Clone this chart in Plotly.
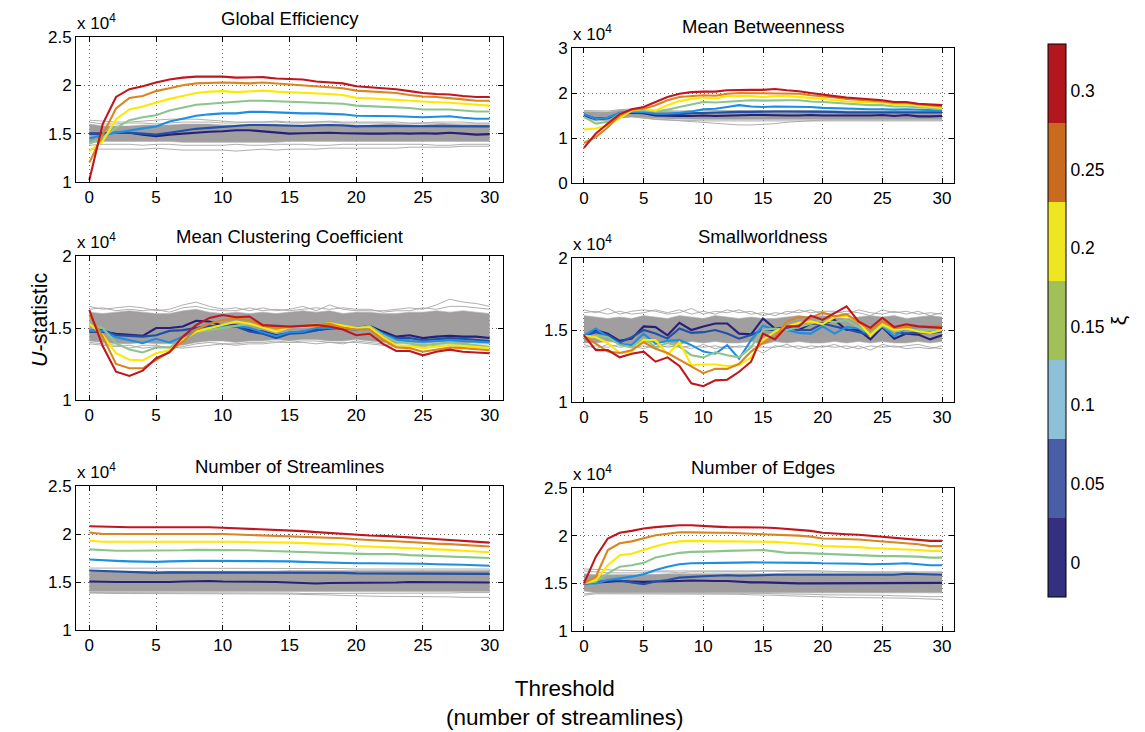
import plotly.graph_objects as go

W, H = 1145, 732
X = list(range(31))
XI = [0, 0.05, 0.1, 0.15, 0.2, 0.25, 0.3]
XI_TEXT = ["0", "0.05", "0.1", "0.15", "0.2", "0.25", "0.3"]
LINE_COLORS = ["#25207B", "#2050A8", "#1C8EE3", "#8CC58C", "#FFE800", "#D98520", "#C0161E"]
BAR_COLORS = ["#352F82", "#4A5EA8", "#8DC1D7", "#A1C158", "#EEE620", "#C96A1F", "#B3171E"]

# ---------------- Global Efficiency (x 1e4) ----------------
ge_00 = [1.50,1.50,1.51,1.51,1.49,1.475,1.49,1.50,1.515,1.52,1.525,1.535,1.535,1.525,1.51,1.50,1.505,1.51,1.51,1.505,1.50,1.50,1.50,1.505,1.50,1.505,1.50,1.51,1.50,1.49,1.495]
ge_05 = [1.50,1.50,1.51,1.51,1.50,1.49,1.51,1.53,1.55,1.56,1.57,1.58,1.59,1.59,1.585,1.58,1.58,1.585,1.59,1.585,1.575,1.58,1.58,1.58,1.575,1.575,1.58,1.58,1.575,1.575,1.575]
ge_10 = [1.45,1.485,1.51,1.535,1.555,1.575,1.625,1.655,1.685,1.70,1.71,1.71,1.725,1.725,1.72,1.71,1.71,1.71,1.705,1.70,1.685,1.685,1.685,1.68,1.675,1.67,1.675,1.68,1.665,1.655,1.655]
ge_15 = [1.395,1.46,1.56,1.64,1.67,1.69,1.74,1.77,1.80,1.81,1.82,1.83,1.84,1.84,1.835,1.83,1.825,1.82,1.815,1.81,1.79,1.785,1.78,1.775,1.765,1.75,1.75,1.75,1.74,1.73,1.73]
ge_20 = [1.32,1.42,1.65,1.75,1.78,1.82,1.86,1.89,1.92,1.935,1.94,1.93,1.94,1.945,1.935,1.93,1.925,1.92,1.91,1.90,1.87,1.865,1.86,1.85,1.84,1.83,1.825,1.82,1.81,1.80,1.79]
ge_25 = [1.20,1.49,1.76,1.87,1.89,1.94,1.97,2.00,2.02,2.025,2.03,2.025,2.02,2.03,2.02,2.01,2.00,1.99,1.98,1.97,1.945,1.935,1.93,1.92,1.90,1.885,1.88,1.87,1.855,1.84,1.84]
ge_30 = [1.02,1.60,1.88,1.96,1.99,2.03,2.06,2.08,2.09,2.09,2.09,2.08,2.08,2.085,2.07,2.065,2.06,2.04,2.03,2.02,1.99,1.98,1.97,1.96,1.94,1.92,1.91,1.905,1.89,1.88,1.88]
ge_gray_lo = [1.40,1.42,1.42,1.42,1.42,1.42,1.42,1.41,1.41,1.41,1.41,1.41,1.41,1.41,1.41,1.42,1.42,1.42,1.42,1.42,1.42,1.42,1.42,1.42,1.42,1.42,1.42,1.42,1.42,1.42,1.42]
ge_gray_hi = [1.60,1.58,1.58,1.58,1.59,1.59,1.59,1.60,1.60,1.60,1.59,1.59,1.60,1.60,1.60,1.59,1.59,1.60,1.60,1.60,1.59,1.59,1.60,1.60,1.59,1.59,1.60,1.60,1.59,1.59,1.59]
ge_gray_lines = [
    [1.64,1.63,1.62,1.62,1.63,1.64,1.65,1.65,1.65,1.64,1.63,1.62,1.62,1.62,1.62,1.61,1.61,1.62,1.62,1.61,1.61,1.61,1.61,1.60,1.60,1.61,1.61,1.60,1.60,1.60,1.60],
    [1.62,1.60,1.60,1.61,1.61,1.60,1.61,1.62,1.62,1.62,1.61,1.61,1.62,1.62,1.63,1.62,1.62,1.62,1.63,1.62,1.62,1.62,1.62,1.62,1.61,1.61,1.62,1.62,1.62,1.61,1.61],
    [1.34,1.34,1.34,1.34,1.34,1.35,1.34,1.33,1.33,1.33,1.33,1.32,1.33,1.34,1.33,1.34,1.34,1.34,1.35,1.35,1.35,1.35,1.35,1.35,1.36,1.36,1.36,1.36,1.37,1.37,1.37],
    [1.38,1.39,1.39,1.39,1.38,1.39,1.39,1.38,1.38,1.38,1.38,1.39,1.38,1.38,1.39,1.39,1.39,1.38,1.38,1.39,1.39,1.39,1.39,1.39,1.39,1.39,1.38,1.38,1.39,1.39,1.39],
]

# ---------------- Mean Betweenness ----------------
mb_00 = [1.50,1.42,1.44,1.54,1.56,1.55,1.50,1.49,1.49,1.49,1.50,1.49,1.50,1.50,1.51,1.51,1.50,1.50,1.50,1.51,1.50,1.50,1.50,1.49,1.50,1.51,1.49,1.51,1.48,1.48,1.49]
mb_05 = [1.52,1.43,1.45,1.55,1.57,1.57,1.53,1.53,1.53,1.55,1.56,1.56,1.57,1.58,1.58,1.59,1.59,1.59,1.59,1.59,1.58,1.58,1.57,1.57,1.58,1.58,1.57,1.58,1.57,1.57,1.57]
mb_10 = [1.53,1.42,1.45,1.56,1.58,1.58,1.54,1.54,1.56,1.59,1.64,1.65,1.69,1.73,1.70,1.69,1.70,1.70,1.70,1.69,1.67,1.66,1.65,1.65,1.64,1.64,1.63,1.64,1.63,1.61,1.61]
mb_15 = [1.47,1.32,1.36,1.54,1.61,1.61,1.59,1.63,1.69,1.75,1.80,1.79,1.81,1.83,1.84,1.83,1.84,1.84,1.84,1.81,1.80,1.78,1.76,1.74,1.73,1.73,1.70,1.70,1.69,1.67,1.65]
mb_20 = [1.19,1.21,1.28,1.45,1.61,1.65,1.61,1.73,1.82,1.87,1.90,1.88,1.93,1.93,1.93,1.91,1.93,1.93,1.91,1.90,1.87,1.84,1.81,1.80,1.79,1.78,1.75,1.75,1.72,1.69,1.67]
mb_25 = [0.89,1.02,1.24,1.50,1.63,1.65,1.73,1.84,1.91,1.93,1.95,1.94,1.985,2.00,2.00,2.00,2.00,2.00,1.985,1.95,1.93,1.90,1.87,1.85,1.84,1.81,1.78,1.78,1.75,1.72,1.70]
mb_30 = [0.78,1.10,1.32,1.53,1.64,1.69,1.80,1.91,1.985,2.02,2.03,2.03,2.06,2.07,2.07,2.07,2.09,2.06,2.04,2.00,1.96,1.93,1.90,1.88,1.87,1.84,1.80,1.80,1.76,1.74,1.73]
mb_gray_lo = [1.46,1.40,1.41,1.45,1.47,1.45,1.43,1.42,1.42,1.41,1.41,1.41,1.41,1.41,1.41,1.42,1.42,1.42,1.42,1.42,1.42,1.42,1.42,1.42,1.42,1.42,1.41,1.41,1.41,1.41,1.41]
mb_gray_hi = [1.59,1.58,1.58,1.62,1.63,1.61,1.60,1.59,1.58,1.58,1.58,1.58,1.59,1.59,1.59,1.59,1.59,1.59,1.59,1.59,1.59,1.59,1.59,1.58,1.58,1.58,1.58,1.58,1.58,1.58,1.58]
mb_gray_lines = [
    [1.61,1.60,1.60,1.63,1.645,1.62,1.61,1.60,1.60,1.61,1.61,1.61,1.62,1.62,1.61,1.61,1.61,1.61,1.61,1.61,1.61,1.60,1.60,1.60,1.60,1.60,1.60,1.60,1.60,1.60,1.60],
    [1.45,1.40,1.41,1.46,1.48,1.46,1.42,1.40,1.38,1.36,1.34,1.32,1.30,1.29,1.29,1.30,1.32,1.35,1.37,1.39,1.40,1.40,1.40,1.40,1.40,1.41,1.40,1.40,1.40,1.40,1.40],
    [1.46,1.38,1.39,1.45,1.47,1.44,1.41,1.40,1.40,1.39,1.38,1.38,1.38,1.38,1.39,1.39,1.39,1.39,1.39,1.39,1.39,1.39,1.39,1.39,1.39,1.39,1.38,1.38,1.38,1.38,1.38],
]

# ---------------- Mean Clustering Coefficient ----------------
cc_00 = [1.475,1.475,1.46,1.45,1.445,1.50,1.50,1.51,1.55,1.545,1.515,1.52,1.485,1.475,1.45,1.465,1.475,1.49,1.50,1.505,1.50,1.515,1.475,1.44,1.45,1.43,1.44,1.445,1.44,1.44,1.43]
cc_05 = [1.48,1.485,1.45,1.445,1.44,1.45,1.48,1.485,1.50,1.515,1.505,1.51,1.475,1.46,1.43,1.46,1.465,1.485,1.50,1.495,1.49,1.505,1.46,1.43,1.43,1.415,1.425,1.43,1.425,1.42,1.41]
cc_10 = [1.48,1.48,1.435,1.415,1.395,1.425,1.40,1.44,1.485,1.49,1.51,1.515,1.50,1.47,1.445,1.47,1.475,1.50,1.50,1.50,1.49,1.51,1.46,1.42,1.41,1.405,1.41,1.415,1.41,1.405,1.40]
cc_15 = [1.52,1.50,1.395,1.35,1.33,1.365,1.365,1.415,1.47,1.485,1.50,1.52,1.53,1.51,1.485,1.505,1.515,1.53,1.53,1.515,1.50,1.515,1.45,1.405,1.395,1.38,1.39,1.40,1.39,1.38,1.37]
cc_20 = [1.53,1.45,1.325,1.28,1.275,1.325,1.345,1.415,1.475,1.50,1.52,1.545,1.53,1.505,1.475,1.505,1.51,1.515,1.535,1.515,1.50,1.505,1.435,1.38,1.375,1.36,1.37,1.38,1.375,1.365,1.36]
cc_25 = [1.59,1.44,1.25,1.22,1.22,1.28,1.335,1.405,1.49,1.53,1.555,1.565,1.555,1.515,1.50,1.505,1.515,1.52,1.53,1.50,1.49,1.49,1.42,1.365,1.36,1.335,1.35,1.365,1.36,1.35,1.345]
cc_30 = [1.625,1.375,1.197,1.167,1.204,1.29,1.33,1.44,1.52,1.57,1.59,1.575,1.58,1.52,1.515,1.51,1.515,1.52,1.51,1.49,1.45,1.46,1.39,1.34,1.34,1.31,1.335,1.35,1.335,1.33,1.325]
cc_gray_lo = [1.41,1.40,1.39,1.39,1.40,1.39,1.39,1.38,1.40,1.41,1.41,1.40,1.41,1.41,1.42,1.41,1.42,1.42,1.41,1.41,1.42,1.41,1.40,1.39,1.40,1.39,1.40,1.40,1.39,1.40,1.40]
cc_gray_hi = [1.61,1.60,1.61,1.62,1.61,1.60,1.60,1.62,1.63,1.61,1.60,1.61,1.60,1.61,1.60,1.61,1.62,1.61,1.62,1.60,1.61,1.61,1.60,1.60,1.61,1.61,1.62,1.61,1.62,1.61,1.60]
cc_gray_lines = [
    [1.65,1.63,1.64,1.65,1.64,1.62,1.63,1.66,1.68,1.65,1.63,1.64,1.62,1.64,1.62,1.63,1.65,1.62,1.66,1.63,1.62,1.62,1.62,1.63,1.64,1.63,1.66,1.70,1.68,1.67,1.65],
    [1.63,1.64,1.62,1.63,1.62,1.63,1.61,1.64,1.65,1.63,1.62,1.62,1.64,1.62,1.63,1.62,1.63,1.64,1.63,1.64,1.63,1.63,1.61,1.62,1.62,1.64,1.63,1.65,1.65,1.64,1.63],
    [1.39,1.38,1.37,1.38,1.36,1.37,1.37,1.36,1.37,1.38,1.39,1.38,1.39,1.39,1.40,1.40,1.40,1.39,1.40,1.40,1.40,1.39,1.38,1.37,1.38,1.37,1.38,1.38,1.37,1.38,1.37],
    [1.40,1.39,1.38,1.36,1.38,1.38,1.36,1.37,1.39,1.40,1.39,1.39,1.40,1.40,1.41,1.40,1.41,1.41,1.40,1.39,1.41,1.40,1.39,1.38,1.38,1.38,1.39,1.39,1.38,1.39,1.39],
]

# ---------------- Smallworldness ----------------
sw_00 = [1.46,1.50,1.475,1.425,1.44,1.525,1.52,1.463,1.55,1.50,1.525,1.545,1.545,1.475,1.47,1.58,1.51,1.515,1.50,1.545,1.545,1.57,1.50,1.50,1.435,1.52,1.44,1.475,1.468,1.435,1.463]
sw_05 = [1.46,1.485,1.465,1.415,1.45,1.50,1.475,1.44,1.51,1.48,1.485,1.50,1.475,1.44,1.465,1.50,1.50,1.515,1.50,1.50,1.545,1.525,1.51,1.485,1.465,1.525,1.485,1.475,1.485,1.48,1.49]
sw_10 = [1.46,1.51,1.45,1.405,1.395,1.475,1.405,1.425,1.43,1.395,1.35,1.335,1.395,1.30,1.43,1.53,1.50,1.50,1.48,1.475,1.525,1.475,1.52,1.51,1.465,1.525,1.455,1.515,1.50,1.485,1.51]
sw_15 = [1.45,1.46,1.45,1.395,1.38,1.445,1.38,1.41,1.385,1.325,1.31,1.345,1.325,1.31,1.38,1.50,1.51,1.50,1.52,1.545,1.57,1.555,1.57,1.52,1.475,1.53,1.485,1.51,1.50,1.50,1.51]
sw_20 = [1.46,1.45,1.41,1.34,1.35,1.43,1.43,1.33,1.415,1.255,1.26,1.26,1.25,1.255,1.31,1.43,1.49,1.525,1.55,1.56,1.54,1.59,1.60,1.555,1.46,1.54,1.50,1.51,1.49,1.48,1.50]
sw_25 = [1.46,1.405,1.35,1.34,1.36,1.415,1.37,1.34,1.295,1.245,1.20,1.23,1.23,1.265,1.35,1.41,1.45,1.56,1.59,1.585,1.62,1.595,1.61,1.555,1.50,1.56,1.515,1.52,1.52,1.525,1.53]
sw_30 = [1.463,1.36,1.36,1.31,1.335,1.35,1.28,1.31,1.25,1.13,1.11,1.15,1.155,1.21,1.28,1.475,1.435,1.525,1.525,1.60,1.57,1.615,1.665,1.56,1.515,1.585,1.52,1.54,1.525,1.52,1.515]
sw_gray_lo = [1.41,1.41,1.42,1.41,1.40,1.41,1.42,1.41,1.40,1.42,1.41,1.42,1.41,1.41,1.42,1.40,1.42,1.41,1.42,1.41,1.41,1.42,1.41,1.42,1.41,1.42,1.41,1.41,1.42,1.41,1.42]
sw_gray_hi = [1.60,1.59,1.58,1.59,1.58,1.60,1.59,1.58,1.60,1.59,1.58,1.60,1.59,1.58,1.59,1.58,1.58,1.59,1.60,1.59,1.60,1.59,1.58,1.59,1.60,1.59,1.60,1.58,1.59,1.60,1.59]
sw_gray_lines = [
    [1.64,1.62,1.65,1.61,1.63,1.64,1.63,1.61,1.62,1.65,1.61,1.63,1.62,1.64,1.61,1.62,1.60,1.63,1.62,1.64,1.61,1.62,1.63,1.62,1.60,1.64,1.62,1.63,1.61,1.62,1.61],
    [1.62,1.63,1.61,1.63,1.61,1.62,1.64,1.62,1.64,1.61,1.63,1.61,1.64,1.62,1.63,1.60,1.62,1.61,1.64,1.62,1.63,1.63,1.61,1.64,1.62,1.61,1.63,1.61,1.63,1.60,1.62],
    [1.38,1.39,1.38,1.40,1.38,1.39,1.37,1.39,1.38,1.39,1.38,1.39,1.37,1.39,1.38,1.34,1.39,1.38,1.39,1.37,1.39,1.38,1.39,1.37,1.39,1.38,1.39,1.37,1.38,1.37,1.39],
    [1.40,1.37,1.40,1.38,1.39,1.37,1.40,1.38,1.39,1.37,1.40,1.37,1.39,1.38,1.39,1.38,1.38,1.40,1.37,1.39,1.38,1.40,1.37,1.39,1.36,1.40,1.38,1.39,1.40,1.38,1.37],
]

# ---------------- Number of Streamlines ----------------
ns_00 = [1.505,1.50,1.50,1.50,1.50,1.495,1.50,1.505,1.51,1.51,1.505,1.505,1.50,1.50,1.50,1.495,1.49,1.485,1.49,1.49,1.495,1.495,1.49,1.495,1.50,1.50,1.495,1.50,1.50,1.495,1.495]
ns_05 = [1.62,1.615,1.61,1.605,1.60,1.595,1.60,1.60,1.60,1.60,1.60,1.60,1.60,1.60,1.595,1.595,1.60,1.60,1.595,1.595,1.59,1.59,1.59,1.59,1.59,1.59,1.59,1.59,1.585,1.585,1.585]
ns_10 = [1.735,1.725,1.72,1.715,1.71,1.71,1.715,1.72,1.72,1.72,1.72,1.72,1.715,1.715,1.715,1.715,1.71,1.705,1.705,1.70,1.695,1.695,1.695,1.695,1.69,1.69,1.685,1.685,1.68,1.675,1.67]
ns_15 = [1.84,1.83,1.825,1.825,1.825,1.825,1.83,1.83,1.835,1.835,1.83,1.83,1.83,1.825,1.82,1.82,1.815,1.81,1.805,1.80,1.795,1.79,1.79,1.79,1.78,1.775,1.77,1.765,1.76,1.755,1.75]
ns_20 = [1.93,1.92,1.92,1.92,1.92,1.92,1.925,1.925,1.925,1.925,1.92,1.92,1.915,1.915,1.91,1.91,1.905,1.90,1.895,1.89,1.875,1.87,1.865,1.86,1.85,1.845,1.84,1.835,1.825,1.815,1.81]
ns_25 = [2.015,2.00,2.00,2.00,2.00,2.00,2.00,2.00,2.005,2.005,2.00,1.995,1.99,1.99,1.985,1.98,1.97,1.965,1.96,1.955,1.945,1.935,1.93,1.925,1.915,1.905,1.90,1.895,1.885,1.875,1.87]
ns_30 = [2.08,2.075,2.07,2.07,2.07,2.07,2.075,2.075,2.075,2.07,2.065,2.06,2.055,2.05,2.04,2.035,2.03,2.02,2.01,2.00,1.99,1.985,1.98,1.975,1.965,1.955,1.945,1.94,1.93,1.92,1.91]
ns_gray_lo = [1.40,1.40,1.40,1.40,1.40,1.40,1.40,1.40,1.40,1.40,1.40,1.40,1.40,1.40,1.40,1.40,1.40,1.40,1.40,1.40,1.40,1.40,1.40,1.40,1.40,1.40,1.40,1.40,1.40,1.40,1.40]
ns_gray_hi = [1.61,1.61,1.61,1.61,1.61,1.61,1.61,1.61,1.61,1.61,1.61,1.61,1.615,1.615,1.615,1.62,1.62,1.62,1.62,1.62,1.62,1.62,1.62,1.62,1.62,1.62,1.62,1.62,1.62,1.62,1.62]
ns_gray_lines = [
    [1.645,1.645,1.645,1.645,1.645,1.645,1.645,1.645,1.645,1.64,1.64,1.64,1.64,1.64,1.64,1.64,1.64,1.64,1.64,1.64,1.635,1.635,1.635,1.635,1.635,1.635,1.635,1.635,1.635,1.635,1.635],
    [1.385,1.38,1.38,1.38,1.38,1.38,1.38,1.38,1.38,1.38,1.38,1.375,1.375,1.375,1.375,1.375,1.37,1.37,1.365,1.36,1.355,1.35,1.35,1.35,1.35,1.35,1.345,1.345,1.34,1.34,1.34],
    [1.39,1.39,1.39,1.39,1.39,1.39,1.39,1.39,1.385,1.385,1.385,1.385,1.385,1.385,1.385,1.385,1.38,1.38,1.38,1.38,1.38,1.38,1.38,1.385,1.385,1.385,1.385,1.385,1.39,1.39,1.39],
]

# ---------------- Number of Edges ----------------
ne_00 = [1.50,1.51,1.52,1.525,1.52,1.515,1.52,1.52,1.525,1.53,1.525,1.525,1.525,1.515,1.51,1.51,1.505,1.50,1.50,1.50,1.50,1.50,1.50,1.50,1.50,1.50,1.505,1.505,1.50,1.50,1.505]
ne_05 = [1.50,1.51,1.53,1.53,1.51,1.49,1.52,1.535,1.56,1.57,1.575,1.58,1.585,1.58,1.58,1.585,1.59,1.59,1.585,1.585,1.585,1.59,1.59,1.59,1.59,1.59,1.59,1.60,1.595,1.59,1.59]
ne_10 = [1.50,1.50,1.535,1.55,1.57,1.595,1.64,1.675,1.70,1.71,1.71,1.712,1.715,1.717,1.72,1.72,1.717,1.715,1.715,1.715,1.71,1.71,1.71,1.705,1.70,1.70,1.705,1.71,1.70,1.69,1.69]
ne_15 = [1.50,1.52,1.605,1.675,1.69,1.715,1.77,1.795,1.82,1.83,1.83,1.835,1.84,1.845,1.845,1.85,1.835,1.82,1.82,1.815,1.805,1.80,1.795,1.79,1.79,1.785,1.785,1.785,1.78,1.77,1.77]
ne_20 = [1.50,1.535,1.69,1.795,1.81,1.85,1.89,1.92,1.94,1.945,1.94,1.94,1.94,1.94,1.94,1.94,1.935,1.925,1.92,1.91,1.89,1.887,1.885,1.88,1.87,1.865,1.862,1.86,1.85,1.84,1.84]
ne_25 = [1.50,1.57,1.85,1.92,1.94,1.975,2.005,2.02,2.035,2.035,2.03,2.03,2.03,2.025,2.025,2.02,2.01,2.005,2.00,1.99,1.97,1.967,1.965,1.96,1.95,1.94,1.935,1.925,1.91,1.89,1.89]
ne_30 = [1.50,1.78,1.97,2.03,2.05,2.075,2.09,2.10,2.11,2.11,2.10,2.095,2.09,2.09,2.087,2.085,2.08,2.07,2.06,2.05,2.03,2.02,2.015,2.01,2.00,1.99,1.98,1.97,1.955,1.945,1.945]
ne_gray_lo = [1.42,1.40,1.40,1.40,1.40,1.40,1.405,1.405,1.405,1.405,1.405,1.405,1.405,1.405,1.405,1.405,1.40,1.40,1.40,1.40,1.40,1.40,1.40,1.40,1.40,1.40,1.40,1.40,1.40,1.40,1.40]
ne_gray_hi = [1.60,1.59,1.59,1.59,1.59,1.59,1.595,1.60,1.60,1.60,1.60,1.60,1.60,1.60,1.60,1.605,1.605,1.605,1.605,1.605,1.605,1.605,1.605,1.605,1.605,1.605,1.605,1.605,1.605,1.605,1.605]
ne_gray_lines = [
    [1.65,1.645,1.64,1.635,1.635,1.63,1.63,1.63,1.625,1.625,1.625,1.625,1.625,1.625,1.63,1.63,1.63,1.635,1.635,1.63,1.63,1.625,1.62,1.62,1.62,1.62,1.62,1.62,1.62,1.62,1.62],
    [1.63,1.62,1.61,1.61,1.61,1.61,1.62,1.62,1.61,1.62,1.62,1.62,1.62,1.62,1.62,1.63,1.63,1.62,1.62,1.62,1.62,1.62,1.62,1.62,1.62,1.615,1.62,1.615,1.61,1.61,1.61],
    [1.375,1.39,1.39,1.39,1.39,1.39,1.39,1.39,1.39,1.39,1.39,1.39,1.385,1.385,1.38,1.38,1.375,1.37,1.365,1.36,1.355,1.35,1.35,1.35,1.35,1.35,1.345,1.345,1.34,1.335,1.33],
    [1.39,1.40,1.40,1.40,1.40,1.40,1.40,1.40,1.40,1.40,1.40,1.40,1.40,1.40,1.395,1.395,1.39,1.39,1.385,1.385,1.38,1.38,1.375,1.375,1.375,1.375,1.37,1.37,1.365,1.36,1.36],
]

TITLES = ["Global Efficiency", "Mean Betweenness", "Mean Clustering Coefficient",
          "Smallworldness", "Number of Streamlines", "Number of Edges"]
SERIES = [
    [ge_00, ge_05, ge_10, ge_15, ge_20, ge_25, ge_30],
    [mb_00, mb_05, mb_10, mb_15, mb_20, mb_25, mb_30],
    [cc_00, cc_05, cc_10, cc_15, cc_20, cc_25, cc_30],
    [sw_00, sw_05, sw_10, sw_15, sw_20, sw_25, sw_30],
    [ns_00, ns_05, ns_10, ns_15, ns_20, ns_25, ns_30],
    [ne_00, ne_05, ne_10, ne_15, ne_20, ne_25, ne_30],
]
GRAY_LO = [ge_gray_lo, mb_gray_lo, cc_gray_lo, sw_gray_lo, ns_gray_lo, ne_gray_lo]
GRAY_HI = [ge_gray_hi, mb_gray_hi, cc_gray_hi, sw_gray_hi, ns_gray_hi, ne_gray_hi]
GRAY_LINES = [ge_gray_lines, mb_gray_lines, cc_gray_lines, sw_gray_lines, ns_gray_lines, ne_gray_lines]
Y_TICKS = [[1, 1.5, 2, 2.5], [0, 1, 2, 3], [1, 1.5, 2], [1, 1.5, 2], [1, 1.5, 2, 2.5], [1, 1.5, 2, 2.5]]
Y_TICKTEXT = [["1", "1.5", "2", "2.5"], ["0", "1", "2", "3"], ["1", "1.5", "2"], ["1", "1.5", "2"],
              ["1", "1.5", "2", "2.5"], ["1", "1.5", "2", "2.5"]]
X_TICKS = [0, 5, 10, 15, 20, 25, 30]

# panel boxes in pixels: (left, right, top, bottom)
BOXES = [(76, 503, 37, 182), (572, 954, 48, 183),
         (76, 503, 256, 400), (572, 954, 258, 402),
         (76, 503, 486, 630), (572, 954, 488, 631)]
TITLE_Y = [18, 27, 236, 237, 466, 467]

fig = go.Figure()
FONT = "Liberation Sans, Arial, Helvetica, sans-serif"

for i in range(6):
    ax = "" if i == 0 else str(i + 1)
    xa, ya = "x" + ax, "y" + ax
    # dense null-distribution band
    fig.add_trace(go.Scatter(x=X, y=GRAY_LO[i], xaxis=xa, yaxis=ya, mode="lines",
                             line=dict(width=0.6, color="#B4B2B2"), showlegend=False, hoverinfo="skip"))
    fig.add_trace(go.Scatter(x=X, y=GRAY_HI[i], xaxis=xa, yaxis=ya, mode="lines", fill="tonexty",
                             fillcolor="#A09E9E", line=dict(width=0.6, color="#B4B2B2"),
                             showlegend=False, hoverinfo="skip"))
    for g in GRAY_LINES[i]:
        fig.add_trace(go.Scatter(x=X, y=g, xaxis=xa, yaxis=ya, mode="lines",
                                 line=dict(width=0.9, color="#A6A6A6"), showlegend=False, hoverinfo="skip"))
    for k, s in enumerate(SERIES[i]):
        fig.add_trace(go.Scatter(x=X, y=s, xaxis=xa, yaxis=ya, mode="lines",
                                 line=dict(width=2.1, color=LINE_COLORS[k]), showlegend=False,
                                 name="ξ=" + XI_TEXT[k]))

    l, r, t, b = BOXES[i]
    xdom = [l / W, r / W]
    ydom = [1 - b / H, 1 - t / H]
    common = dict(showline=True, linecolor="black", linewidth=1, mirror="ticks", ticks="inside",
                  ticklen=5, tickcolor="black", showgrid=True, gridcolor="#666666", gridwidth=1,
                  griddash="1px,3px", zeroline=False, automargin=False,
                  tickfont=dict(size=17, color="black", family=FONT))
    fig.layout["xaxis" + ax] = dict(domain=xdom, anchor=ya, range=[-1, 31], tickvals=X_TICKS, **common)
    yt = Y_TICKS[i]
    fig.layout["yaxis" + ax] = dict(domain=ydom, anchor=xa, range=[yt[0], yt[-1]], tickvals=yt,
                                    ticktext=Y_TICKTEXT[i], **common)
    fig.add_annotation(x=(l + r) / 2 / W, y=1 - TITLE_Y[i] / H, xref="paper", yref="paper",
                       text=TITLES[i], showarrow=False, xanchor="center", yanchor="middle",
                       font=dict(size=18.5, color="black", family=FONT))
    fig.add_annotation(x=(l - 1) / W, y=1 - (t - 2) / H, xref="paper", yref="paper",
                       text="x 10<sup>4</sup>", showarrow=False, xanchor="left", yanchor="bottom",
                       font=dict(size=17, color="black", family=FONT))

# colour bar for xi
cmin, cmax = -0.022, 0.33
n = len(BAR_COLORS)
cs = []
for k, c in enumerate(BAR_COLORS):
    cs.append([k / n, c])
    cs.append([(k + 1) / n, c])
fig.add_trace(go.Scatter(x=[-50], y=[-50], mode="markers", showlegend=False, hoverinfo="skip",
                         marker=dict(size=1, color=[0.15], cmin=cmin, cmax=cmax, colorscale=cs,
                                     showscale=True,
                                     colorbar=dict(x=1048 / W, xanchor="left", y=1 - 320.5 / H,
                                                   yanchor="middle", len=553, lenmode="pixels",
                                                   thickness=18, thicknessmode="pixels", xpad=0, ypad=0,
                                                   outlinecolor="black", outlinewidth=1,
                                                   tickvals=XI, ticktext=XI_TEXT, ticks="",
                                                   tickfont=dict(size=17.5, color="black", family=FONT),
                                                   title=dict(text="ξ", side="right",
                                                              font=dict(size=21, color="black", family=FONT))))))

fig.add_annotation(x=40 / W, y=1 - 320 / H, xref="paper", yref="paper", text="<i>U</i>-statistic",
                   textangle=-90, showarrow=False, xanchor="center", yanchor="middle",
                   font=dict(size=21.5, color="black", family=FONT))
fig.add_annotation(x=565 / W, y=1 - 703 / H, xref="paper", yref="paper",
                   text="Threshold<br>(number of streamlines)", showarrow=False,
                   xanchor="center", yanchor="middle", font=dict(size=22.5, color="black", family=FONT))

fig.update_layout(width=W, height=H, margin=dict(l=0, r=0, t=0, b=0, autoexpand=False),
                  paper_bgcolor="white", plot_bgcolor="white",
                  font=dict(family=FONT, color="black"), showlegend=False)
fig.write_html("out.html", config={"displayModeBar": False},
               post_script="document.body.style.margin='0px';document.body.style.overflow='hidden';")
